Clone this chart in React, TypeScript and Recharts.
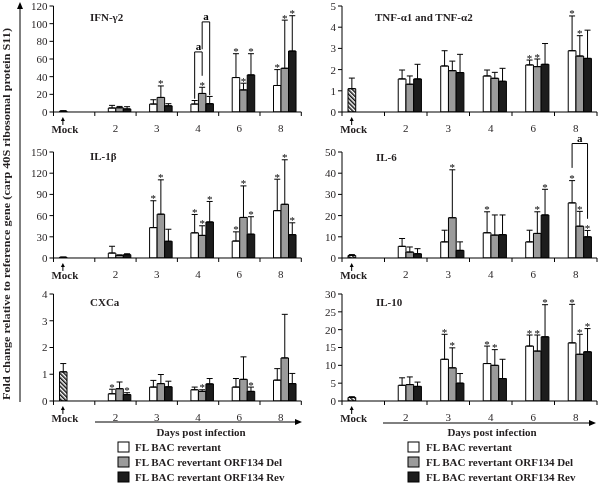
import React from "react"
import { BarChart, Bar, XAxis, YAxis, ErrorBar } from "recharts"

const days = ["Mock", "2", "3", "4", "6", "8"]
const seriesNames = ["FL BAC revertant", "FL BAC revertant ORF134 Del", "FL BAC revertant ORF134 Rev"]

// IFN-γ2
const ifnMock = [1, 0.4]
const ifnRev = [4.5, 9, 9, 39, 30]
const ifnRevSd = [3, 4.9, 4, 27, 18]
const ifnDel = [4.8, 16.5, 21, 25, 49.5]
const ifnDelSd = [1.5, 13, 7, 7.6, 54.5]
const ifnOrf = [3.5, 7, 9.4, 42, 69]
const ifnOrfSd = [2.5, 2.4, 8.2, 24, 40]
const ifnStars = [[0, 0, 0, 1, 1], [0, 1, 1, 1, 1], [0, 0, 0, 1, 1]]
const ifnTicks = [0, 20, 40, 60, 80, 100, 120]
const ifnBrackets = [
  { day: "4", from: 0, to: 1, top: 68, fromEnd: 15, toEnd: 41 },
  { day: "4", from: 1, to: 2, top: 102, fromEnd: 71, toEnd: 19 },
]

// TNF-α1 and TNF-α2
const tnfMock = [1.1, 0.5]
const tnfRev = [1.56, 2.17, 1.7, 2.22, 2.89]
const tnfRevSd = [0.42, 0.72, 0.28, 0.23, 1.64]
const tnfDel = [1.31, 1.95, 1.59, 2.14, 2.64]
const tnfDelSd = [0.39, 0.45, 0.28, 0.36, 0.96]
const tnfOrf = [1.56, 1.86, 1.45, 2.25, 2.53]
const tnfOrfSd = [0.69, 0.86, 0.61, 0.98, 1.33]
const tnfStars = [[0, 0, 0, 1, 1], [0, 0, 0, 1, 1], [0, 0, 0, 0, 0]]
const tnfTicks = [0, 1, 2, 3, 4, 5]

// IL-1β
const il1Mock = [1, 0.3]
const il1Rev = [7, 43, 35.6, 24, 67]
const il1RevSd = [9.6, 38, 26, 13, 44.5]
const il1Del = [3.8, 62, 32, 57.4, 76]
const il1DelSd = [0.5, 48.6, 13.6, 44.6, 63]
const il1Orf = [4.7, 23.7, 51, 33.7, 33]
const il1OrfSd = [1.3, 17, 29, 24.7, 16.8]
const il1Stars = [[0, 1, 1, 1, 1], [0, 1, 1, 1, 1], [0, 0, 1, 1, 1]]
const il1Ticks = [0, 30, 60, 90, 120, 150]

// IL-6
const il6Mock = [1.2, 0.4]
const il6Rev = [5.5, 7.6, 11.9, 7.6, 26]
const il6RevSd = [3.7, 5.5, 9.9, 5.5, 10.5]
const il6Del = [2.8, 19, 10.8, 11.6, 15]
const il6DelSd = [2.4, 22.6, 9.5, 10.2, 7]
const il6Orf = [2, 3.6, 11, 20.3, 10]
const il6OrfSd = [2.4, 4, 9.3, 12.1, 3]
const il6Stars = [[0, 0, 1, 0, 1], [0, 1, 0, 1, 1], [0, 0, 0, 1, 1]]
const il6Ticks = [0, 10, 20, 30, 40, 50]
const il6Brackets = [{ day: "8", from: 0, to: 2, top: 54, fromEnd: 42.5, toEnd: 18.5 }]

// CXCa
const cxcMock = [1.09, 0.31]
const cxcRev = [0.27, 0.52, 0.42, 0.52, 0.78]
const cxcRevSd = [0.17, 0.25, 0.1, 0.32, 0.43]
const cxcDel = [0.46, 0.65, 0.36, 0.81, 1.61]
const cxcDelSd = [0.25, 0.34, 0.06, 0.84, 1.63]
const cxcOrf = [0.24, 0.53, 0.64, 0.36, 0.65]
const cxcOrfSd = [0.07, 0.21, 0.2, 0.16, 0.38]
const cxcStars = [[1, 0, 0, 0, 0], [0, 0, 1, 0, 0], [1, 0, 0, 1, 0]]
const cxcTicks = [0, 1, 2, 3, 4]

// IL-10
const il10Mock = [1, 0.2]
const il10Rev = [4.4, 11.7, 10.5, 15.4, 16.3]
const il10RevSd = [2.1, 7, 4.9, 3.1, 10.8]
const il10Del = [4.6, 9.3, 10, 14, 13.1]
const il10DelSd = [2.15, 5.6, 4.4, 4.5, 5.6]
const il10Orf = [4.1, 5, 6.3, 18, 13.8]
const il10OrfSd = [1.2, 2.7, 5.4, 9, 6.5]
const il10Stars = [[0, 1, 1, 1, 1], [0, 1, 1, 1, 1], [0, 0, 0, 1, 1]]
const il10Ticks = [0, 5, 10, 15, 20, 25, 30]

const FONT = "Liberation Serif"
const INK = "#231f20"
const fills = ["#ffffff", "#9b9b9b", "#1c1c1c"]
const keys = ["rev", "del", "orf"]

type Bracket = { day: string; from: number; to: number; top: number; fromEnd: number; toEnd: number }

function buildRows(mock: number[], vals: number[][], sds: number[][]) {
  return days.map((d, i) => {
    if (i === 0) return { day: d, mock: mock[0], mockE: [0, mock[1]] }
    const row: any = { day: d }
    keys.forEach((k, s) => {
      row[k] = vals[s][i - 1]
      row[k + "E"] = [0, sds[s][i - 1]]
    })
    return row
  })
}

// null rows (mock) are dropped from the label list, so prefer the payload's day
const makeLabel = (sd: number[], star: number[], seriesIdx: number, brackets: Bracket[]) => (p: any) => {
  const { x, y, width, height, value, index } = p
  if (value == null || !height) return null
  const day = p.payload?.day ?? days[index + 1]
  const k = days.indexOf(day) - 1
  if (k < 0) return null
  const ppu = height / value
  const base = y + height
  const py = (v: number) => base - v * ppu
  const cx = x + width / 2
  const errTop = py(value + sd[k])
  const out: any[] = []
  if (star[k]) {
    out.push(
      <text key="s" x={cx} y={errTop + 1.5} textAnchor="middle" fontSize={11} fontFamily={FONT} fill="#000" stroke="none">
        *
      </text>,
    )
  }
  brackets
    .filter((b) => b.day === day && b.from === seriesIdx)
    .forEach((b, j) => {
      const x2 = cx + (b.to - b.from) * width
      const yt = py(b.top)
      out.push(
        <path key={"b" + j} d={`M${cx},${py(b.fromEnd)}V${yt}H${x2}V${py(b.toEnd)}`} fill="none" stroke="#000" strokeWidth={1} />,
      )
      out.push(
        <text key={"a" + j} x={(cx + x2) / 2} y={yt - 2} textAnchor="middle" fontSize={11} fontWeight="bold" fontFamily={FONT} fill="#000" stroke="none">
          a
        </text>,
      )
    })
  return <g>{out}</g>
}

function DayTick(props: any) {
  const { x, y, payload, band, barSize } = props
  const axisY = y - 4
  const marks = [x - band / 2]
  if (payload.value === "8") marks.push(x + band / 2)
  const isMock = payload.value === "Mock"
  const mx = x - 1.5 * barSize
  return (
    <g>
      {marks.map((m, i) => (
        <line key={i} x1={m} x2={m} y1={axisY} y2={axisY + 4} stroke="#000" />
      ))}
      {isMock ? (
        <g>
          <line x1={mx} x2={mx} y1={axisY + 8} y2={axisY + 13} stroke="#000" />
          <polygon points={`${mx - 2},${axisY + 9} ${mx + 2},${axisY + 9} ${mx},${axisY + 5}`} fill="#000" />
          <text x={mx + 2} y={axisY + 21} textAnchor="middle" fontSize={11} fontWeight="bold" fontFamily={FONT} fill={INK}>
            Mock
          </text>
        </g>
      ) : (
        <text x={x} y={axisY + 20} textAnchor="middle" fontSize={11} fontFamily={FONT} fill={INK}>
          {payload.value}
        </text>
      )}
    </g>
  )
}

type PanelProps = {
  left: number
  top: number
  plotTop: number
  plotBottom: number
  yWidth: number
  plotWidth: number
  rows: any[]
  ticks: number[]
  sds: number[][]
  stars: number[][]
  brackets: Bracket[]
}

function Panel({ left, top, plotTop, plotBottom, yWidth, plotWidth, rows, ticks, sds, stars, brackets }: PanelProps) {
  const band = plotWidth / 6
  const barSize = band / 5.5
  const xH = 28
  const width = yWidth + plotWidth + 3
  const height = plotBottom - top + xH
  return (
    <div style={{ position: "absolute", left, top, willChange: "transform" }}>
      <BarChart
        width={width}
        height={height}
        data={rows}
        barGap={0}
        barSize={barSize}
        margin={{ top: plotTop - top, right: 3, bottom: 0, left: 0 }}
      >
        <XAxis
          dataKey="day"
          axisLine={{ stroke: "#000" }}
          tickLine={false}
          tickSize={4}
          tickMargin={0}
          height={xH}
          interval={0}
          tick={(p: any) => <DayTick {...p} band={band} barSize={barSize} />}
        />
        <YAxis
          domain={[ticks[0], ticks[ticks.length - 1]]}
          ticks={ticks}
          interval={0}
          width={yWidth}
          tickSize={4}
          tickMargin={2}
          axisLine={{ stroke: "#000" }}
          tickLine={{ stroke: "#000" }}
          tick={{ fontSize: 11, fill: INK, fontFamily: FONT }}
          allowDataOverflow
        />
        <Bar dataKey="mock" fill="url(#hatch)" stroke="#000" strokeWidth={1} isAnimationActive={false}>
          <ErrorBar dataKey="mockE" width={3} stroke="#000" strokeWidth={1} />
        </Bar>
        {keys.map((k, s) => (
          <Bar
            key={k}
            dataKey={k}
            fill={fills[s]}
            stroke="#000"
            strokeWidth={1}
            isAnimationActive={false}
            label={makeLabel(sds[s], stars[s], s, brackets)}
          >
            <ErrorBar dataKey={k + "E"} width={3} stroke="#000" strokeWidth={1} />
          </Bar>
        ))}
      </BarChart>
    </div>
  )
}

const txt = { fontFamily: FONT, fill: INK, fontWeight: "bold" as const }

export default function App() {
  const L = { left: 0, yWidth: 53.5, plotWidth: 247.8 }
  const R = { left: 300, yWidth: 42, plotWidth: 255 }
  const rowTop = { top: 0, plotTop: 6, plotBottom: 112 }
  const rowMid = { top: 128, plotTop: 152, plotBottom: 258 }
  const rowBot = { top: 272, plotTop: 294, plotBottom: 401 }

  const legend = (bx: number, tx: number) =>
    seriesNames.map((n, i) => (
      <g key={n}>
        <rect x={bx} y={442 + i * 15} width={11} height={10} fill={fills[i]} stroke="#000" />
        <text x={tx} y={451 + i * 15} fontSize={11} {...txt}>
          {n}
        </text>
      </g>
    ))

  return (
    <div style={{ position: "absolute", left: 0, top: 0, width: 600, height: 483, background: "#fff", overflow: "hidden" }}>
      <Panel {...L} {...rowTop} rows={buildRows(ifnMock, [ifnRev, ifnDel, ifnOrf], [ifnRevSd, ifnDelSd, ifnOrfSd])}
        ticks={ifnTicks} sds={[ifnRevSd, ifnDelSd, ifnOrfSd]} stars={ifnStars} brackets={ifnBrackets} />
      <Panel {...R} {...rowTop} rows={buildRows(tnfMock, [tnfRev, tnfDel, tnfOrf], [tnfRevSd, tnfDelSd, tnfOrfSd])}
        ticks={tnfTicks} sds={[tnfRevSd, tnfDelSd, tnfOrfSd]} stars={tnfStars} brackets={[]} />
      <Panel {...L} {...rowMid} rows={buildRows(il1Mock, [il1Rev, il1Del, il1Orf], [il1RevSd, il1DelSd, il1OrfSd])}
        ticks={il1Ticks} sds={[il1RevSd, il1DelSd, il1OrfSd]} stars={il1Stars} brackets={[]} />
      <Panel {...R} {...rowMid} rows={buildRows(il6Mock, [il6Rev, il6Del, il6Orf], [il6RevSd, il6DelSd, il6OrfSd])}
        ticks={il6Ticks} sds={[il6RevSd, il6DelSd, il6OrfSd]} stars={il6Stars} brackets={il6Brackets} />
      <Panel {...L} {...rowBot} rows={buildRows(cxcMock, [cxcRev, cxcDel, cxcOrf], [cxcRevSd, cxcDelSd, cxcOrfSd])}
        ticks={cxcTicks} sds={[cxcRevSd, cxcDelSd, cxcOrfSd]} stars={cxcStars} brackets={[]} />
      <Panel {...R} {...rowBot} rows={buildRows(il10Mock, [il10Rev, il10Del, il10Orf], [il10RevSd, il10DelSd, il10OrfSd])}
        ticks={il10Ticks} sds={[il10RevSd, il10DelSd, il10OrfSd]} stars={il10Stars} brackets={[]} />

      <svg width={600} height={483} style={{ position: "absolute", left: 0, top: 0, pointerEvents: "none" }}>
        <defs>
          <pattern id="hatch" patternUnits="userSpaceOnUse" width={3} height={3} patternTransform="rotate(-45)">
            <rect width={3} height={3} fill="#fff" />
            <rect width={1.5} height={3} fill="#111" />
          </pattern>
        </defs>

        <text x={90} y={21} fontSize={11} {...txt}>IFN-γ2</text>
        <text x={375} y={21} fontSize={11} {...txt}>TNF-α1 and TNF-α2</text>
        <text x={90} y={160} fontSize={11} {...txt}>IL-1β</text>
        <text x={376} y={161} fontSize={11} {...txt}>IL-6</text>
        <text x={90} y={306} fontSize={11} {...txt}>CXCa</text>
        <text x={376} y={306} fontSize={11} {...txt}>IL-10</text>

        <text
          transform="translate(10,214) rotate(-90)"
          textAnchor="middle"
          fontSize={10.5}
          textLength={372}
          lengthAdjust="spacingAndGlyphs"
          {...txt}
        >
          Fold change relative to reference gene (carp 40S ribosomal protein S11)
        </text>
        <line x1={20} x2={20} y1={402} y2={8} stroke="#000" />
        <polygon points="17,9 23,9 20,2" fill="#000" />

        <line x1={95} x2={296} y1={422} y2={422} stroke="#000" />
        <polygon points="295,419 295,425 302,422" fill="#000" />
        <line x1={383} x2={590} y1={423} y2={423} stroke="#000" />
        <polygon points="589,420 589,426 596,423" fill="#000" />

        <text x={201} y={436} textAnchor="middle" fontSize={11} {...txt}>Days post infection</text>
        <text x={492} y={436} textAnchor="middle" fontSize={11} {...txt}>Days post infection</text>

        {legend(118, 135)}
        {legend(408, 426)}
      </svg>
    </div>
  )
}
